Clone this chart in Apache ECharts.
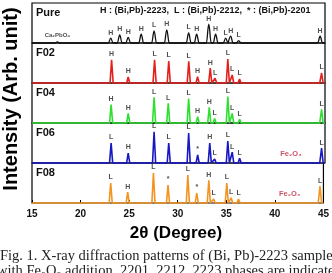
<!DOCTYPE html>
<html>
<head>
<meta charset="utf-8">
<script src="https://cdn.jsdelivr.net/npm/echarts@6/dist/echarts.min.js"></script>
<style>
  html, body { margin: 0; padding: 0; background: #fff; }
  #chart { width: 332px; height: 273px; }
</style>
</head>
<body>
<div id="chart"></div>
<script>
// XRD patterns, 2θ 15-45, one panel per sample
const xTicks = [15, 20, 25, 30, 35, 40, 45];
const sampleNames = ['Pure', 'F02', 'F04', 'F06', 'F08'];
const sampleColors = ['#111111', '#e3211c', '#2ee02e', '#1717c4', '#f39320'];

// peak positions (deg), relative heights (0-100 of panel) and phase marks
const purePos = [17.6, 23.06, 23.98, 24.85, 26.18, 27.5, 28.8, 31.04, 31.86, 33.1, 33.8, 34.83, 35.34, 36.16, 44.5];
const pureHgt = [3, 12, 20, 14, 22, 30, 33, 25, 22, 47, 22, 12, 17, 6, 17];
const pureTag = ['Ca₂PbO₄', 'H', 'H', 'H', 'H', 'L', 'H', 'L', 'H', 'H', 'H', 'L', 'H', 'L', 'H'];

const f02Pos = [23.15, 24.85, 27.55, 29.0, 31.05, 31.95, 33.25, 33.75, 35.05, 35.5, 36.25, 44.3, 44.65];
const f02Hgt = [58, 15, 58, 55, 54, 16, 37, 12, 60, 20, 10, 5, 25];
const f02Tag = ['H', 'H', 'L', 'L', 'L', 'H', 'H', 'L', 'L', 'L', 'L', '', 'L'];

const f04Pos = [23.1, 24.85, 27.5, 28.95, 31.04, 31.96, 33.15, 33.7, 35.05, 35.5, 36.26, 44.3, 44.65];
const f04Hgt = [46, 24, 64, 49, 61, 16, 39, 11, 66, 24, 9, 5, 34];
const f04Tag = ['H', 'H', 'L', 'L', 'L', 'H', 'H', 'L', 'L', 'L', 'L', '', 'L'];

const f06Pos = [23.1, 24.85, 27.5, 29.0, 31.04, 31.96, 33.2, 33.7, 35.05, 35.5, 36.26, 40.9, 44.3, 44.65];
const f06Hgt = [50, 25, 78, 50, 75, 20, 50, 10, 55, 27, 12, 4, 5, 37];
const f06Tag = ['L', 'H', 'L', 'L', 'L', '*', 'H', 'L', 'L', 'L', 'L', 'Fe₂O₃', '', 'L'];

const f08Pos = [23.1, 24.85, 27.5, 29.0, 31.04, 31.96, 33.2, 33.7, 35.05, 35.5, 36.26, 40.9, 44.3, 44.65];
const f08Hgt = [50, 27, 75, 45, 70, 25, 57, 10, 50, 13, 10, 4, 5, 42];
const f08Tag = ['L', 'H', 'L', '*', 'L', '*', 'H', 'L', 'L', 'L', 'L', 'Fe₂O₃', '', 'L'];

const allPos = [purePos, f02Pos, f04Pos, f06Pos, f08Pos];
const allHgt = [pureHgt, f02Hgt, f04Hgt, f06Hgt, f08Hgt];
const allTag = [pureTag, f02Tag, f04Tag, f06Tag, f08Tag];

const FONT = 'Arial, "Liberation Sans", sans-serif';
const SERIF = '"Liberation Serif", "Times New Roman", serif';
const panelTop = 3, panelH = 40;

function tracePoints(pos, hgt, w) {
  const pts = [[15, 0]];
  pos.forEach((p, i) => { pts.push([p - w, 0], [p, hgt[i]], [p + w, 0]); });
  pts.push([45, 0]);
  return pts;
}

const grids = [], xAxes = [], yAxes = [], series = [], graphics = [];

sampleNames.forEach((name, i) => {
  const last = i === sampleNames.length - 1;
  grids.push({
    left: 32, right: 7, top: panelTop + i * panelH, height: panelH,
    show: true, borderColor: '#000', borderWidth: 1.2, backgroundColor: 'transparent'
  });
  xAxes.push({
    gridIndex: i, type: 'value', min: 15, max: 45, interval: 5,
    splitLine: { show: false },
    axisLine: { show: false },
    axisTick: { show: last, inside: true, length: 3, lineStyle: { color: '#000', width: 1 } },
    axisLabel: {
      show: last, margin: 6, fontSize: 10, fontWeight: 'bold', color: '#111', fontFamily: FONT,
      formatter: v => xTicks.includes(v) ? String(v) : ''
    }
  });
  yAxes.push({ gridIndex: i, type: 'value', min: 0, max: 100, show: false });

  const broad = i === 0;
  series.push({
    type: 'line', xAxisIndex: i, yAxisIndex: i,
    data: tracePoints(allPos[i], allHgt[i], broad ? 0.25 : 0.16),
    showSymbol: false, clip: false,
    smooth: broad ? 0.4 : false, smoothMonotone: 'x',
    lineStyle: { color: sampleColors[i], width: broad ? 1.3 : 1.6 },
    z: 3
  });
  series.push({
    type: 'scatter', xAxisIndex: i, yAxisIndex: i,
    symbolSize: 1, itemStyle: { color: 'rgba(0,0,0,0)' },
    data: allPos[i].map((p, k) => {
      const t = allTag[i][k];
      const fe = t.startsWith('Fe');
      const long = t.length > 1;
      return {
        value: [p, allHgt[i][k]], name: t,
        label: long ? {
          fontSize: fe ? 7.5 : 6, distance: 3,
          color: fe ? '#c0283c' : '#222',
          offset: fe ? [6, 0] : [0, 0]
        } : {}
      };
    }),
    label: {
      show: true, position: 'top', distance: 1.5,
      formatter: p => p.name,
      fontSize: 7, fontWeight: 'bold', color: '#222', fontFamily: FONT
    },
    z: 4
  });

  graphics.push({
    type: 'text', x: 36, y: panelTop + i * panelH + 10,
    style: { text: name, font: 'bold 11px ' + FONT, fill: '#111', textVerticalAlign: 'middle' }
  });
});

graphics.push(
  {
    type: 'text', x: 100, y: 11,
    style: { text: 'H : (Bi,Pb)-2223,  L : (Bi,Pb)-2212,  * : (Bi,Pb)-2201', font: 'bold 9px ' + FONT, fill: '#111', textVerticalAlign: 'middle' }
  },
  {
    type: 'text', x: 11, y: 99, rotation: Math.PI / 2,
    style: { text: 'Intensity (Arb. unit)', font: 'bold 20px ' + FONT, fill: '#000', textAlign: 'center', textVerticalAlign: 'middle' }
  },
  {
    type: 'text', x: 176, y: 233,
    style: { text: '2θ (Degree)', font: 'bold 17px ' + FONT, fill: '#000', textAlign: 'center', textVerticalAlign: 'middle' }
  },
  {
    type: 'text', x: 0, y: 256,
    style: { text: 'Fig. 1. X-ray diffraction patterns of (Bi, Pb)-2223 samples', font: '14.5px ' + SERIF, fill: '#222', textVerticalAlign: 'middle' }
  },
  {
    type: 'text', x: -3, y: 271,
    style: { text: 'with Fe₂O₃ addition. 2201, 2212, 2223 phases are indicated', font: '14.5px ' + SERIF, fill: '#222', textVerticalAlign: 'middle' }
  }
);

const chart = echarts.init(document.getElementById('chart'));
chart.setOption({
  animation: false,
  grid: grids,
  xAxis: xAxes,
  yAxis: yAxes,
  series: series,
  graphic: graphics
});
</script>
</body>
</html>
